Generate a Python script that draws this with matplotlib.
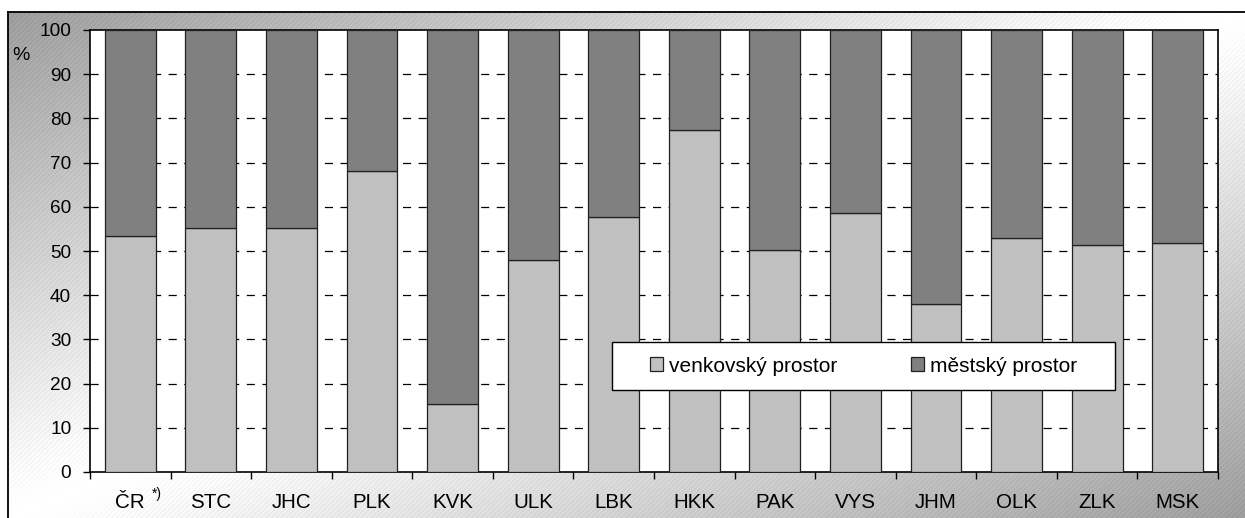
import numpy as np
import matplotlib
matplotlib.use("Agg")
import matplotlib.pyplot as plt
from matplotlib.patches import Rectangle

plt.rcParams['font.family'] = ['Liberation Sans', 'DejaVu Sans']

categories = ["ČR", "STC", "JHC", "PLK", "KVK", "ULK", "LBK", "HKK", "PAK", "VYS", "JHM", "OLK", "ZLK", "MSK"]
venkovsky = [53.5, 55.3, 55.3, 68.0, 15.3, 48.0, 57.7, 77.3, 50.2, 58.5, 38.0, 53.0, 51.3, 51.7]
mestsky = [100 - v for v in venkovsky]
series_names = ["venkovský prostor", "městský prostor"]
yticks = list(range(0, 101, 10))

W, H = 1245, 518
fig = plt.figure(figsize=(W / 100, H / 100), dpi=100)
fig.patch.set_facecolor("white")

# background gradient with faint diagonal stripes
bg = fig.add_axes([8 / W, 0, 1 - 8 / W, 1 - 12 / H])
h, w = 506, 1237
yy, xx = np.mgrid[0:h, 0:w]
t = (xx / w + yy / h) / 2
val = 1 - 0.4 * np.abs(2 * t - 1) ** 1.0
stripe = ((xx + yy) % 5) < 1.3
val = np.clip(val + 0.035 * stripe, 0, 1)
bg.imshow(val, cmap="gray", vmin=0, vmax=1, aspect="auto", interpolation="nearest")
bg.set_xticks([]); bg.set_yticks([])
for s in ["right", "bottom"]:
    bg.spines[s].set_visible(False)
for s in ["left", "top"]:
    bg.spines[s].set_linewidth(1.3)

L, R, T, B = 90, 1218, 30, 472
ax = fig.add_axes([L / W, 1 - B / H, (R - L) / W, (B - T) / H])
ax.set_facecolor("white")
x = np.arange(len(categories))
bw = 0.63
ax.bar(x, venkovsky, bw, color="#C0C0C0", edgecolor="#202020", linewidth=0.9, zorder=3, label=series_names[0])
ax.bar(x, mestsky, bw, bottom=venkovsky, color="#808080", edgecolor="#202020", linewidth=0.9, zorder=3, label=series_names[1])

ax.set_xlim(-0.5, len(categories) - 0.5)
ax.set_ylim(0, 100)
ax.set_yticks(yticks)
ax.set_yticklabels([str(v) for v in yticks], fontsize=13.7)
for v in yticks[1:-1]:
    ax.axhline(v, color="black", linewidth=0.9, linestyle=(0, (6.5, 6)), zorder=1)

ax.set_xticks(x)
ax.set_xticklabels(categories, fontsize=14.8)
ax.set_xticks(np.arange(-0.5, len(categories), 1.0), minor=True)
ax.tick_params(axis="x", which="major", length=0, pad=15)
ax.tick_params(axis="x", which="minor", length=5, direction="out", width=1)
ax.tick_params(axis="y", length=5, direction="out", width=1, pad=8.5)
for s in ax.spines.values():
    s.set_linewidth(1.2)
    s.set_color("black")

# superscript after ČR
fig.text(152 / W, 1 - 494 / H, "*)", fontsize=10, ha="left", va="center")
fig.text(12 / W, 1 - 56 / H, "%", fontsize=14, ha="left", va="center")

# legend box
lx0, ly0, lx1, ly1 = 612, 342, 1115, 390
rect = Rectangle(((lx0 - L) / (R - L), (B - ly1) / (B - T)), (lx1 - lx0) / (R - L), (ly1 - ly0) / (B - T),
                 transform=ax.transAxes, facecolor="white", edgecolor="black", linewidth=1.0, zorder=5)
ax.add_patch(rect)
leg = ax.legend(loc="center", bbox_to_anchor=(((lx0 + lx1) / 2 - L) / (R - L), (B - (ly0 + ly1) / 2) / (B - T)),
                ncol=2, frameon=False, fontsize=15, handlelength=0.65, handleheight=0.65,
                handletextpad=0.3, columnspacing=3.5)
leg.set_zorder(6)

fig.savefig("out.png", dpi=100)
